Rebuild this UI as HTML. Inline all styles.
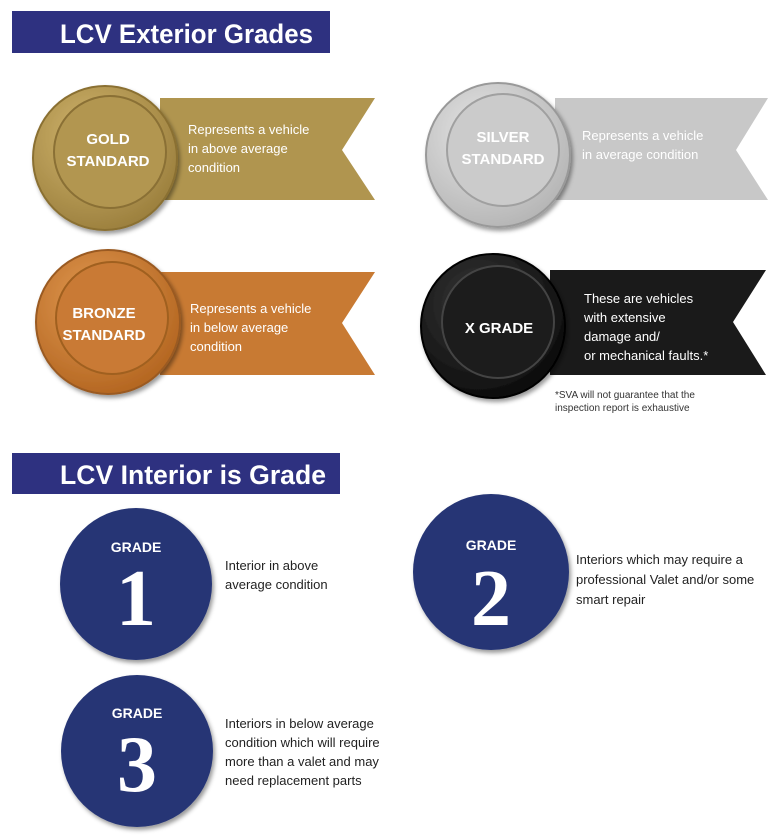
<!DOCTYPE html>
<html><head><meta charset="utf-8"><style>
body{margin:0;background:#fff}
svg{display:block}
text{font-family:"Liberation Sans",sans-serif}
text.num{font-family:"Liberation Serif",serif}
</style></head><body>
<svg width="777" height="838" viewBox="0 0 777 838" xmlns="http://www.w3.org/2000/svg">
<defs>
<radialGradient id="gg" cx="40%" cy="35%" r="70%"><stop offset="0" stop-color="#d2b66e"/><stop offset="1" stop-color="#9a7e3c"/></radialGradient>
<radialGradient id="sg" cx="40%" cy="35%" r="70%"><stop offset="0" stop-color="#e6e6e6"/><stop offset="1" stop-color="#b4b4b4"/></radialGradient>
<radialGradient id="bg" cx="40%" cy="35%" r="70%"><stop offset="0" stop-color="#e29a52"/><stop offset="1" stop-color="#b2641f"/></radialGradient>
<radialGradient id="xg" cx="40%" cy="35%" r="70%"><stop offset="0" stop-color="#3a3a3a"/><stop offset="1" stop-color="#0a0a0a"/></radialGradient>
<filter id="sh"><feDropShadow dx="2" dy="3" stdDeviation="2" flood-opacity="0.4"/></filter>
</defs>
<rect x="12" y="11" width="318" height="42" fill="#2e3180"/>
<text x="60" y="43" font-size="27" font-weight="bold" fill="#fff" textLength="253" lengthAdjust="spacingAndGlyphs">LCV Exterior Grades</text>

<!-- Gold -->
<path d="M160 98 H375 L342 150 L375 200 H160 Z" fill="#b0954f"/>
<circle cx="105" cy="158" r="72" fill="url(#gg)" stroke="#8a6f30" stroke-width="2" filter="url(#sh)"/>
<circle cx="110" cy="152" r="56" fill="#b29650" stroke="#8a7035" stroke-width="2"/>
<text x="108" y="144" font-size="15" font-weight="bold" fill="#fff" text-anchor="middle">GOLD</text>
<text x="108" y="166" font-size="15" font-weight="bold" fill="#fff" text-anchor="middle">STANDARD</text>
<g font-size="13" fill="#fff"><text x="188" y="134">Represents a vehicle</text><text x="188" y="153">in above average</text><text x="188" y="172">condition</text></g>

<!-- Silver -->
<path d="M555 98 H768 L736 150 L768 200 H555 Z" fill="#c8c8c8"/>
<circle cx="498" cy="155" r="72" fill="url(#sg)" stroke="#999" stroke-width="2" filter="url(#sh)"/>
<circle cx="503" cy="150" r="56" fill="#cbcbcb" stroke="#a0a0a0" stroke-width="2"/>
<text x="503" y="142" font-size="15" font-weight="bold" fill="#fff" text-anchor="middle">SILVER</text>
<text x="503" y="164" font-size="15" font-weight="bold" fill="#fff" text-anchor="middle">STANDARD</text>
<g font-size="13" fill="#fff"><text x="582" y="140">Represents a vehicle</text><text x="582" y="159">in average condition</text></g>

<!-- Bronze -->
<path d="M160 272 H375 L342 323 L375 375 H160 Z" fill="#c87a33"/>
<circle cx="108" cy="322" r="72" fill="url(#bg)" stroke="#9a5a20" stroke-width="2" filter="url(#sh)"/>
<circle cx="112" cy="318" r="56" fill="#c97a35" stroke="#a0601f" stroke-width="2"/>
<text x="104" y="318" font-size="15" font-weight="bold" fill="#fff" text-anchor="middle">BRONZE</text>
<text x="104" y="340" font-size="15" font-weight="bold" fill="#fff" text-anchor="middle">STANDARD</text>
<g font-size="13" fill="#fff"><text x="190" y="313">Represents a vehicle</text><text x="190" y="332">in below average</text><text x="190" y="351">condition</text></g>

<!-- X -->
<path d="M550 270 H766 L733 322 L766 375 H550 Z" fill="#1a1a1a"/>
<circle cx="493" cy="326" r="72" fill="url(#xg)" stroke="#000" stroke-width="2" filter="url(#sh)"/>
<circle cx="498" cy="322" r="56" fill="#1c1c1c" stroke="#444" stroke-width="2"/>
<text x="499" y="333" font-size="15" font-weight="bold" fill="#fff" text-anchor="middle">X GRADE</text>
<g font-size="13" fill="#fff"><text x="584" y="303">These are vehicles</text><text x="584" y="322">with extensive</text><text x="584" y="341">damage and/</text><text x="584" y="360">or mechanical faults.*</text></g>
<g font-size="10" fill="#333"><text x="555" y="398">*SVA will not guarantee that the</text><text x="555" y="411">inspection report is exhaustive</text></g>

<rect x="12" y="453" width="328" height="41" fill="#2e3180"/>
<text x="60" y="484" font-size="27" font-weight="bold" fill="#fff" textLength="266" lengthAdjust="spacingAndGlyphs">LCV Interior is Grade</text>

<!-- Grade circles -->
<g filter="url(#sh)"><circle cx="136" cy="584" r="76" fill="#263675"/><circle cx="491" cy="572" r="78" fill="#263675"/><circle cx="137" cy="751" r="76" fill="#263675"/></g>
<g fill="#fff" font-weight="bold" text-anchor="middle">
<text x="136" y="552" font-size="14">GRADE</text><text class="num" x="136" y="625" font-size="80">1</text>
<text x="491" y="550" font-size="14">GRADE</text><text class="num" x="491" y="625" font-size="80">2</text>
<text x="137" y="718" font-size="14">GRADE</text><text class="num" x="137" y="791" font-size="80">3</text>
</g>
<g font-size="13" fill="#222">
<text x="225" y="570">Interior in above</text><text x="225" y="589">average condition</text>
<text x="576" y="564">Interiors which may require a</text><text x="576" y="584">professional Valet and/or some</text><text x="576" y="604">smart repair</text>
<text x="225" y="728">Interiors in below average</text><text x="225" y="747">condition which will require</text><text x="225" y="766">more than a valet and may</text><text x="225" y="785">need replacement parts</text>
</g>
</svg>
</body></html>
